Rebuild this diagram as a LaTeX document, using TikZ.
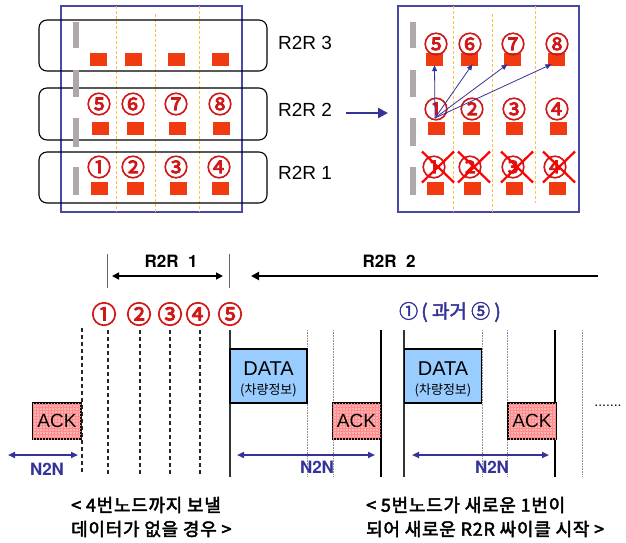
\documentclass[tikz,border=0pt]{standalone}
\usepackage{fontspec}
\setmainfont{Liberation Sans}
\newfontfamily\herosb{texgyreheros-bold.otf}
\newfontfamily\kr{Noto Sans CJK KR}
\newfontfamily\krb{Noto Sans CJK KR}[FakeBold=2.5]
\newfontfamily\krnum{Noto Sans CJK KR}[FakeBold=3.5]
\usetikzlibrary{patterns,arrows.meta,calc}
\definecolor{nodered}{HTML}{F03A10}
\definecolor{numred}{HTML}{D01818}
\definecolor{frameblue}{HTML}{4848A8}
\definecolor{arrowblue}{HTML}{333399}
\definecolor{laneorange}{HTML}{FFC040}
\definecolor{bargrey}{HTML}{B0A8A8}
\definecolor{datablue}{HTML}{99CCFF}
\definecolor{ackpink}{HTML}{FFB0B0}
\tikzset{
  frame/.style={draw=frameblue,line width=1.8pt,inner sep=0pt},
  group/.style={draw=black,line width=1.1pt,rounded corners=8pt,inner sep=0pt,minimum width=228pt},
  lane/.style={draw=laneorange,dashed,dash pattern=on 3pt off 2pt,line width=0.9pt},
  bar/.style={fill=bargrey,draw=none,inner sep=0pt,minimum width=6pt},
  veh/.style={fill=nodered,draw=none,inner sep=0pt,minimum width=17pt,minimum height=13pt},
  num/.style={text=numred,font=\krnum\fontsize{24}{24}\selectfont,inner sep=0pt},
  bnum/.style={text=numred,font=\krnum\fontsize{25}{25}\selectfont,inner sep=0pt},
  glabel/.style={font=\fontsize{19}{19}\selectfont,anchor=west,inner sep=0pt},
  cross/.style={draw=red,line width=2.2pt},
  hop/.style={draw=arrowblue,line width=0.8pt,-{Triangle[length=6pt,width=5pt]}},
  bigarrow/.style={draw=arrowblue,line width=2.4pt,-{Triangle[length=10pt,width=10pt]}},
  rlabel/.style={font=\herosb\fontsize{17}{17}\selectfont,inner sep=0pt},
  span/.style={draw=black,line width=1.6pt},
  tick/.style={draw=black!60,line width=1pt},
  slotdash/.style={draw=black!85,line width=1.1pt,dash pattern=on 4pt off 3pt},
  solidline/.style={draw=black!80,line width=1.1pt},
  dotline/.style={draw=black!45,line width=1pt,dash pattern=on 0.8pt off 0.8pt},
  databox/.style={draw=black,line width=1.2pt,fill=datablue,inner sep=0pt,minimum width=77pt,minimum height=54pt},
  datatext/.style={inner sep=0pt,font=\fontsize{20}{20}\selectfont},
  datasub/.style={inner sep=0pt,font=\kr\fontsize{13}{13}\selectfont},
  ackbox/.style={draw=black,line width=1.2pt,fill=ackpink,inner sep=0pt,minimum width=48pt,minimum height=36pt,
     postaction={pattern=grid,pattern color=red!45}},
  n2n/.style={draw=arrowblue,line width=2pt,{Triangle[length=7pt,width=6pt]}-{Triangle[length=7pt,width=6pt]}},
  n2nlabel/.style={text=arrowblue,font=\herosb\fontsize{17}{17}\selectfont,inner sep=0pt},
  note/.style={font=\krb\fontsize{18}{24}\selectfont\addfontfeatures{LetterSpace=4},align=left,anchor=west,inner sep=0pt}
}
\begin{document}
\begin{tikzpicture}[x=1pt,y=-1pt]
\useasboundingbox (0,0) rectangle (626,542);
% ---------- top left ----------
\node[frame,minimum width=181pt,minimum height=206pt] (fl) at (151.5,109) {};
\draw[lane] (116,6) -- (116,212);
\draw[lane] (155,14) -- (155,212);
\draw[lane] (199,6) -- (199,212);
\node[group,minimum height=51pt] (g3) at (153,45.5) {};
\node[group,minimum height=52pt] (g2) at (153,114) {};
\node[group,minimum height=51pt] (g1) at (153,177.5) {};
\node[bar,minimum height=26pt] (lb1) at (76,35) {};
\node[bar,minimum height=27pt] (lb2) at (76,83.5) {};
\node[bar,minimum height=29pt] (lb3) at (76,132.5) {};
\node[bar,minimum height=28pt] (lb4) at (76,181) {};
\foreach \x/\n in {98.5/a,133.5/b,176/c,220.5/d}{\node[veh] (l3\n) at (\x,59.5) {};}
\foreach \x/\n in {100.5/a,135.5/b,177.5/c,221.5/d}{\node[veh] (l2\n) at (\x,128) {};}
\foreach \x/\n in {99.5/a,135.5/b,178.5/c,220.5/d}{\node[veh] (l1\n) at (\x,188.5) {};}
\node[num] (l2n5) at (99,104) {⑤};
\node[num] (l2n6) at (133,104) {⑥};
\node[num] (l2n7) at (176,104) {⑦};
\node[num] (l2n8) at (220,104) {⑧};
\node[num] (l1n1) at (99,167) {①};
\node[num] (l1n2) at (133,167) {②};
\node[num] (l1n3) at (176,167) {③};
\node[num] (l1n4) at (219,167) {④};
\node[glabel] (lab3) at (278,43) {R2R 3};
\node[glabel] (lab2) at (278,110) {R2R 2};
\node[glabel] (lab1) at (278,173) {R2R 1};
% ---------- top right ----------
\node[frame,minimum width=181pt,minimum height=206pt] (fr) at (488.5,109) {};
\draw[lane] (453,6) -- (453,212);
\draw[lane] (492,14) -- (492,212);
\draw[lane] (535,6) -- (535,203);
\node[bar,minimum height=26pt] (rb1) at (412.5,35) {};
\node[bar,minimum height=27pt] (rb2) at (412.5,83.5) {};
\node[bar,minimum height=28pt] (rb3) at (412.5,132) {};
\node[bar,minimum height=28pt] (rb4) at (412.5,181) {};
\foreach \x/\n in {434.5/a,469.5/b,512.5/c,556.5/d}{\node[veh] (r3\n) at (\x,59.5) {};}
\foreach \x/\n in {436.5/a,471/b,514.5/c,558.5/d}{\node[veh] (r2\n) at (\x,128) {};}
\foreach \x/\n in {435.5/a,472.5/b,514.5/c,557.5/d}{\node[veh] (r1\n) at (\x,188.5) {};}
\node[num] (r3n5) at (436,44) {⑤};
\node[num] (r3n6) at (470,44) {⑥};
\node[num] (r3n7) at (513,44) {⑦};
\node[num] (r3n8) at (557,44) {⑧};
\node[num] (r2n1) at (436,109) {①};
\node[num] (r2n2) at (472,109) {②};
\node[num] (r2n3) at (514,109) {③};
\node[num] (r2n4) at (557,109) {④};
\node[num] (r1n1) at (434,167) {①};
\node[num] (r1n2) at (470,167) {②};
\node[num] (r1n3) at (513,167) {③};
\node[num] (r1n4) at (555,167) {④};
\foreach \n in {1,2,3,4}{
  \draw[cross] ($(r1n\n)+(-12,-15.5)$) -- ($(r1n\n)+(20,15.5)$);
  \draw[cross] ($(r1n\n)+(20,-15.5)$) -- ($(r1n\n)+(-12,15.5)$);
}
\coordinate (src) at (435,118);
\draw[hop] (src) -- ([yshift=1pt]r3a.south);
\draw[hop] (src) -- ([xshift=3pt,yshift=2pt]r3b.south);
\draw[hop] (src) -- ([xshift=-5pt,yshift=2pt]r3c.south);
\draw[hop] (src) -- ([xshift=-5pt,yshift=2pt]r3d.south);
\coordinate (bigs) at (346,113);
\coordinate (bige) at (388,113);
\draw[bigarrow] (bigs) -- (bige);
% ---------- timeline ----------
\coordinate (t1a) at (107,254); \coordinate (t1b) at (107,288);
\coordinate (t2a) at (229,254); \coordinate (t2b) at (229,288);
\draw[tick] (t1a) -- (t1b);
\draw[tick] (t2a) -- (t2b);
\coordinate (s1a) at (112,276); \coordinate (s1b) at (223,276);
\draw[span,{Triangle[length=7pt,width=7pt]}-{Triangle[length=7pt,width=7pt]}] (s1a) -- (s1b);
\coordinate (s2a) at (251,276); \coordinate (s2b) at (598,276);
\draw[span,line width=2pt,{Triangle[length=8pt,width=8pt]}-] (s2a) -- (s2b);
\node[rlabel] (r2r1) at (171,261) {R2R\ \ 1};
\node[rlabel] (r2r2) at (389,261) {R2R\ \ 2};
\node[bnum] (b1) at (104,314) {①};
\node[bnum] (b2) at (139,314) {②};
\node[bnum] (b3) at (170,314) {③};
\node[bnum] (b4) at (198,314) {④};
\node[bnum] (b5) at (230,314) {⑤};
\node[text=arrowblue,font=\krb\fontsize{19}{19}\selectfont,inner sep=0pt] (past) at (450,312) {①\,( 과거 ⑤ )};
\draw[slotdash] (82,328) -- (82,472);
\foreach \x in {108,140,170,200}{\draw[slotdash] (\x,330) -- (\x,474);}
\foreach \x in {230,404}{\draw[solidline] (\x,330) -- (\x,477);}
\foreach \x in {381,555}{\draw[solidline,draw=black] (\x,330) -- (\x,477);}
\foreach \x in {307,333,482,507,582}{\draw[dotline] (\x,330) -- (\x,477);}
\node[databox] (d1) at (268.5,376) {};
\node[datatext] (d1t) at ([yshift=7pt]d1.center) {DATA};
\node[datasub] (d1s) at ([yshift=-14pt]d1.center) {(차량정보)};
\node[databox] (d2) at (443,376) {};
\node[datatext] (d2t) at ([yshift=7pt]d2.center) {DATA};
\node[datasub] (d2s) at ([yshift=-14pt]d2.center) {(차량정보)};
\node[ackbox,font=\fontsize{19}{19}\selectfont] (a0) at (57,421) {ACK};
\node[ackbox,font=\fontsize{19}{19}\selectfont] (a1) at (356.5,421) {ACK};
\node[ackbox,font=\fontsize{19}{19}\selectfont] (a2) at (532,421) {ACK};
\coordinate (n0a) at (8,455); \coordinate (n0b) at (78,455);
\coordinate (n1a) at (237,455); \coordinate (n1b) at (375,455);
\coordinate (n2a) at (412,455); \coordinate (n2b) at (549,455);
\draw[n2n] (n0a) -- (n0b);
\draw[n2n] (n1a) -- (n1b);
\draw[n2n] (n2a) -- (n2b);
\node[n2nlabel] (nl0) at (47,469) {N2N};
\node[n2nlabel] (nl1) at (317,467) {N2N};
\node[n2nlabel] (nl2) at (492,467) {N2N};
\node[inner sep=0pt,font=\fontsize{14}{14}\selectfont] (dots) at (608,406) {.......};
\node[note] (noteL) at (71,517) {< 4번노드까지 보낼\\데이터가 없을 경우 >};
\node[note] (noteR) at (366,517) {< 5번노드가 새로운 1번이\\되어 새로운 R2R 싸이클 시작 >};
\end{tikzpicture}
\end{document}
